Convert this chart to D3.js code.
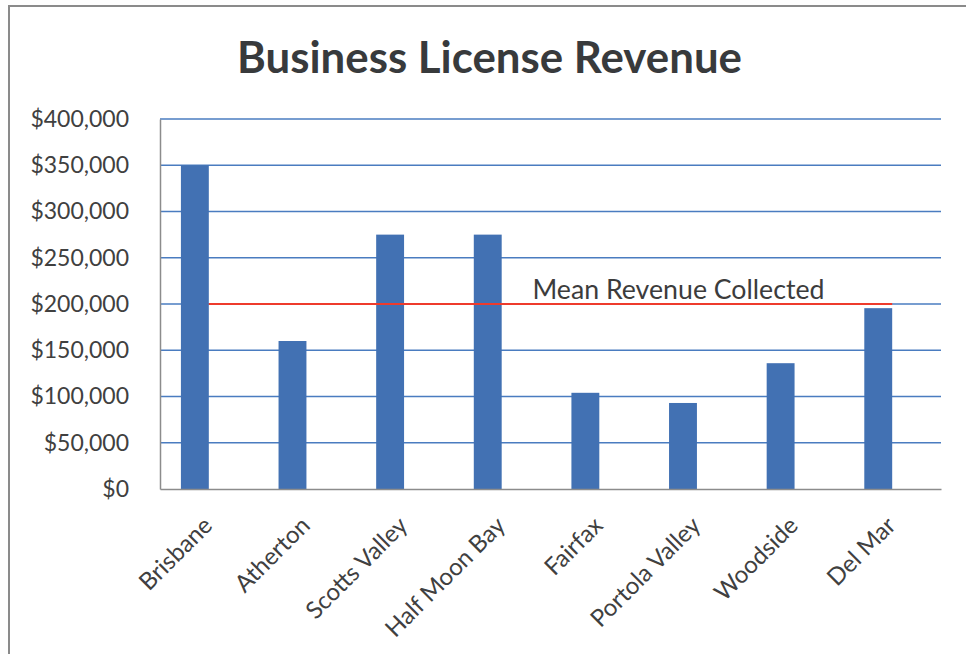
<!DOCTYPE html>
<html>
<head>
<meta charset="utf-8">
<script src="https://cdn.jsdelivr.net/npm/d3@7/dist/d3.min.js"></script>
<style>
  html, body { margin: 0; padding: 0; background: #fefefe; }
  svg { display: block; }
</style>
</head>
<body>
<svg id="chart" width="966" height="654"></svg>
<script>
const categories = ["Brisbane", "Atherton", "Scotts Valley", "Half Moon Bay", "Fairfax", "Portola Valley", "Woodside", "Del Mar"];
const revenue = [350000, 160000, 275000, 275000, 104000, 93000, 136000, 195500];
const meanRevenue = [200000, 200000, 200000, 200000, 200000, 200000, 200000, 200000];
const seriesNames = ["Revenue", "Mean Revenue Collected"];
const yTicks = [0, 50000, 100000, 150000, 200000, 250000, 300000, 350000, 400000];
const title = "Business License Revenue";
const meanLabel = "Mean Revenue Collected";

const svg = d3.select("#chart");
const W = 966, H = 654;
const plot = { left: 160, right: 941, top: 119, bottom: 489 };

// frame
svg.append("rect").attr("x", 9).attr("y", 6).attr("width", W + 20).attr("height", H + 20)
  .attr("fill", "#ffffff").attr("stroke", "#8a8a8a").attr("stroke-width", 2);

const x0 = d3.scaleBand().domain(categories).range([plot.left, plot.right]).paddingInner(0).paddingOuter(0);
const x1 = d3.scaleBand().domain(seriesNames).range([0, x0.bandwidth()]).paddingInner(0).paddingOuter(0.75);
const y = d3.scaleLinear().domain([0, 400000]).range([plot.bottom, plot.top]);

const font = "Lato, 'Open Sans', sans-serif";

// gridlines
svg.append("g").selectAll("line").data(yTicks.filter(d => d > 0)).join("line")
  .attr("x1", plot.left).attr("x2", plot.right)
  .attr("y1", d => y(d)).attr("y2", d => y(d))
  .attr("stroke", "#4a7cc0").attr("stroke-width", 1.5);

// y axis
const yAxis = d3.axisLeft(y).tickValues(yTicks).tickSize(0).tickPadding(31)
  .tickFormat(d => "$" + d3.format(",")(d));
const gy = svg.append("g").attr("transform", `translate(${plot.left},0)`).call(yAxis);
gy.select(".domain").attr("stroke", "#8c8c8c").attr("stroke-width", 1.5);
gy.selectAll("text").attr("font-family", font).attr("font-size", 23).attr("fill", "#404040");

// bars
svg.append("g").selectAll("rect").data(categories).join("rect")
  .attr("x", d => x0(d) + x1("Revenue"))
  .attr("width", x1.bandwidth())
  .attr("y", (d, i) => y(revenue[i]))
  .attr("height", (d, i) => y(0) - y(revenue[i]))
  .attr("fill", "#4271b3");

// x axis
const xAxis = d3.axisBottom(x0).tickSize(0).tickFormat(d => d);
const gx = svg.append("g").attr("transform", `translate(0,${plot.bottom})`).call(xAxis);
gx.select(".domain").attr("stroke", "#8c8c8c").attr("stroke-width", 1.5);
gx.selectAll(".tick text")
  .attr("font-family", font).attr("font-size", 24).attr("fill", "#404040")
  .attr("text-anchor", "end")
  .attr("y", 0).attr("dy", 0)
  .attr("transform", "translate(5,38) rotate(-45)");

// mean line
const line = d3.line()
  .x((d, i) => x0(categories[i]) + x0.bandwidth() / 2)
  .y(d => y(d));
svg.append("path").datum(meanRevenue).attr("d", line)
  .attr("fill", "none").attr("stroke", "#ee3b2c").attr("stroke-width", 1.8);

// mean label
svg.append("text").attr("x", x0("Fairfax") - 18).attr("y", y(meanRevenue[0]) - 5.5)
  .attr("font-family", font).attr("font-size", 26).attr("fill", "#3c3c3c")
  .attr("textLength", 292).attr("lengthAdjust", "spacingAndGlyphs")
  .text(meanLabel);

// title
svg.append("text").attr("x", 489.5).attr("y", 73.3).attr("text-anchor", "middle")
  .attr("font-family", font).attr("font-weight", "bold").attr("font-size", 43).attr("fill", "#383a3c")
  .attr("textLength", 505).attr("lengthAdjust", "spacingAndGlyphs")
  .text(title);
</script>
</body>
</html>
